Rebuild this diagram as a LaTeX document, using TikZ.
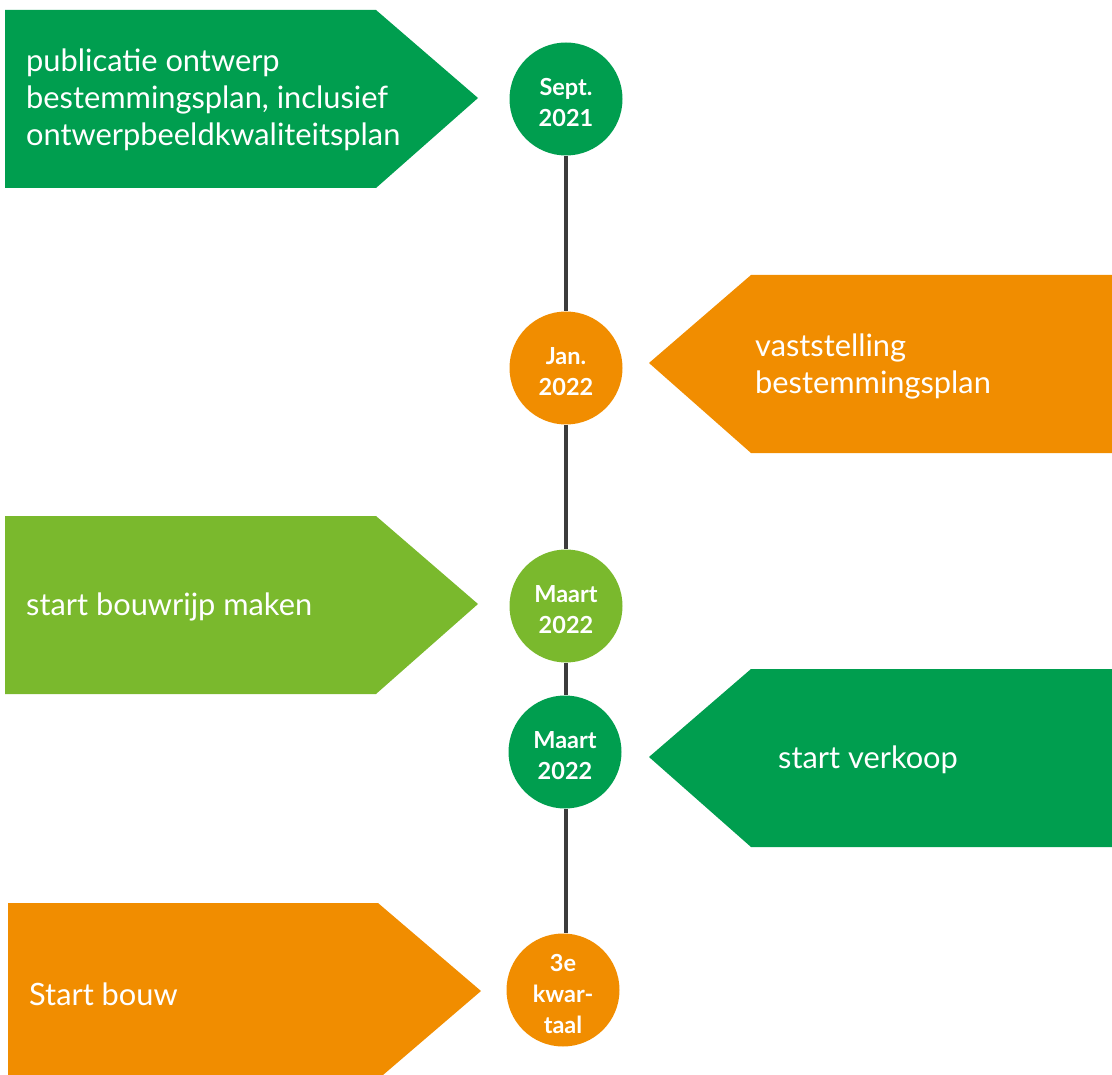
\documentclass[tikz,border=0pt]{standalone}
\usepackage{fontspec}
\setmainfont{Lato}
\definecolor{dgreen}{RGB}{0,158,79}
\definecolor{lgreen}{RGB}{122,185,45}
\definecolor{orng}{RGB}{241,141,0}
\definecolor{lineg}{RGB}{60,60,60}
\tikzset{
  datecirc/.style={circle, minimum size=113pt, inner sep=0pt},
  datetext/.style={text=white, align=center, inner sep=0pt, yshift=-4pt,
    font=\fontsize{23.5}{31}\selectfont\bfseries},
  label/.style={text=white, align=left, inner sep=0pt, anchor=west,
    font=\fontsize{30.8}{37}\selectfont},
  timeline/.style={draw=lineg, line width=4pt}
}
\begin{document}
\begin{tikzpicture}[x=1pt,y=-1pt]
\useasboundingbox (0,0) rectangle (1112,1075);
% pentagons
\fill[dgreen] (5,10) -- (376,10) -- (478,98) -- (376,188) -- (5,188) -- cycle;
\fill[orng] (1112,275) -- (751,275) -- (649,363) -- (751,453) -- (1112,453) -- cycle;
\fill[lgreen] (5,516) -- (376,516) -- (478,604) -- (376,694) -- (5,694) -- cycle;
\fill[dgreen] (1112,669) -- (751,669) -- (649,757) -- (751,847) -- (1112,847) -- cycle;
\fill[orng] (8,903) -- (378,903) -- (481,991) -- (383,1075) -- (8,1075) -- cycle;
% texts
\node[label] (t1) at (26,100) {publicatie ontwerp\\bestemmingsplan, inclusief\\ontwerpbeeldkwaliteitsplan};
\node[label] (t2) at (755,366) {vaststelling\\bestemmingsplan};
\node[label] (t3) at (26,607) {start bouwrijp maken};
\node[label] (t4) at (778,760) {start verkoop};
\node[label] (t5) at (29,994) {Start bouw};
% circles
\node[datecirc, fill=dgreen] (c1) at (566,99) {};
\node[datecirc, fill=orng] (c2) at (566,368) {};
\node[datecirc, fill=lgreen] (c3) at (566,606) {};
\node[datecirc, fill=dgreen] (c4) at (565,752) {};
\node[datecirc, fill=orng] (c5) at (563,990) {};
\node[datetext] (d1) at (c1) {Sept.\\2021};
\node[datetext] (d2) at (c2) {Jan.\\2022};
\node[datetext] (d3) at (c3) {Maart\\2022};
\node[datetext] (d4) at (c4) {Maart\\2022};
\node[datetext] (d5) at (c5) {3e\\kwar-\\taal};
% timeline
\draw[timeline] (c1.south) -- (c2.north);
\draw[timeline] (c2.south) -- (c3.north);
\draw[timeline] (c3.south) -- (c4.north -| c3.south);
\draw[timeline] (c4.south -| c3.south) -- (c5.north -| c3.south);
\end{tikzpicture}
\end{document}
